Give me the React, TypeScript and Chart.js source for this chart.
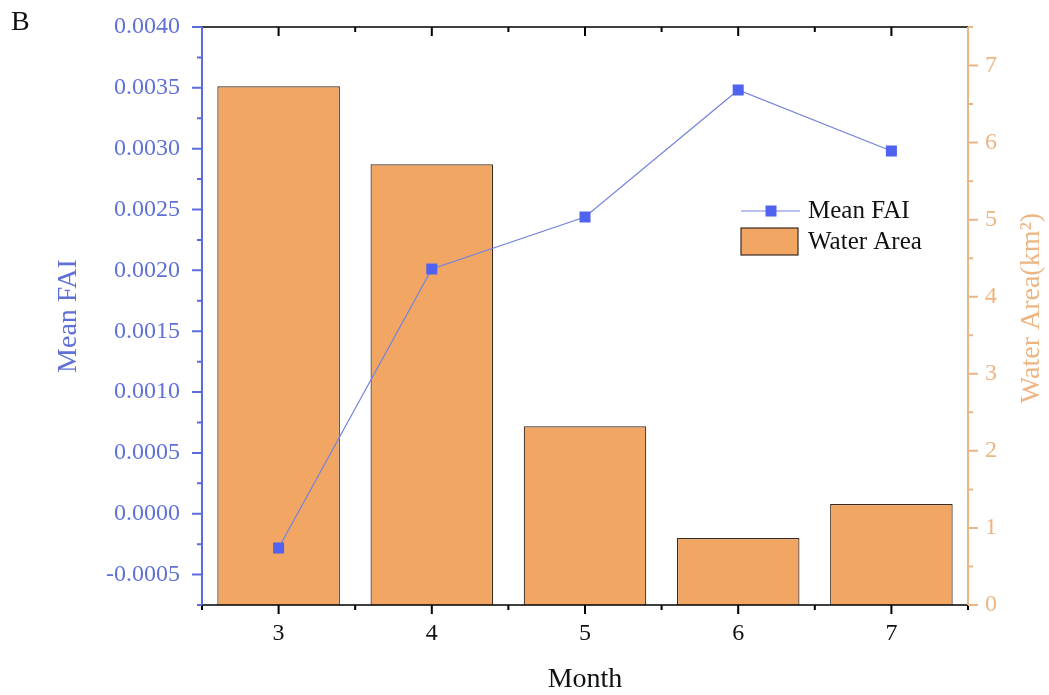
import React, { useEffect, useRef } from "react";
import { Chart, registerables } from "chart.js";

Chart.register(...registerables);

const months = ["3", "4", "5", "6", "7"];
const meanFAI = [-0.000282, 0.002011, 0.002438, 0.003482, 0.002981];
const waterArea = [6.73, 5.72, 2.32, 0.87, 1.31];
const leftTicks = [-0.0005, 0.0, 0.0005, 0.001, 0.0015, 0.002, 0.0025, 0.003, 0.0035, 0.004];
const rightTicks = [0, 1, 2, 3, 4, 5, 6, 7];

const FONT = "'Liberation Serif', 'Times New Roman', serif";
const BLUE_TEXT = "#5F70D6";
const BLUE_LINE = "#5A6CE0";
const TAN_TEXT = "#EDB582";
const TAN_LINE = "#E8B785";
const BAR_FILL = "#F2A664";
const BAR_BORDER = "#3a2a20";
const MARKER = "#4F63F0";
const FAI_LINE = "#7482DE";

const decorPlugin = {
  id: "decor",
  afterDraw(chart: any) {
    const ctx = chart.ctx;
    const { left, right, top, bottom } = chart.chartArea;
    const x = chart.scales.x;
    const y = chart.scales.y;
    const y1 = chart.scales.y1;
    ctx.save();

    // frame top & bottom (black)
    ctx.strokeStyle = "#000";
    ctx.lineWidth = 1.5;
    ctx.beginPath();
    ctx.moveTo(left, top);
    ctx.lineTo(right, top);
    ctx.moveTo(left, bottom);
    ctx.lineTo(right, bottom);
    ctx.stroke();

    // x ticks
    const n = months.length;
    const step = (right - left) / n;
    ctx.lineWidth = 2;
    ctx.beginPath();
    for (let i = 0; i < n; i++) {
      const cx = x.getPixelForValue(i);
      ctx.moveTo(cx, bottom);
      ctx.lineTo(cx, bottom + 9);
      ctx.moveTo(cx, top);
      ctx.lineTo(cx, top + 9);
    }
    for (let i = 0; i <= n; i++) {
      const bx = left + i * step;
      ctx.moveTo(bx, bottom);
      ctx.lineTo(bx, bottom + 5);
      ctx.moveTo(bx, top);
      ctx.lineTo(bx, top + 5);
    }
    ctx.stroke();

    // left axis
    ctx.strokeStyle = BLUE_LINE;
    ctx.lineWidth = 2;
    ctx.beginPath();
    ctx.moveTo(left, top);
    ctx.lineTo(left, bottom);
    for (const v of leftTicks) {
      const py = y.getPixelForValue(v);
      ctx.moveTo(left, py);
      ctx.lineTo(left - 10, py);
      const pm = y.getPixelForValue(v - 0.00025);
      if (pm <= bottom + 0.5) {
        ctx.moveTo(left, pm);
        ctx.lineTo(left - 5, pm);
      }
    }
    ctx.stroke();

    // right axis
    ctx.strokeStyle = TAN_LINE;
    ctx.beginPath();
    ctx.moveTo(right, top);
    ctx.lineTo(right, bottom);
    for (const v of rightTicks) {
      const py = y1.getPixelForValue(v);
      ctx.moveTo(right, py);
      ctx.lineTo(right + 10, py);
      const pm = y1.getPixelForValue(v + 0.5);
      if (pm >= top - 0.5) {
        ctx.moveTo(right, pm);
        ctx.lineTo(right + 5, pm);
      }
    }
    ctx.stroke();

    // titles
    ctx.fillStyle = "#111";
    ctx.font = `28px ${FONT}`;
    ctx.textAlign = "center";
    ctx.textBaseline = "middle";
    ctx.fillText("Month", (left + right) / 2, 680);

    ctx.save();
    ctx.translate(69, 316);
    ctx.rotate(-Math.PI / 2);
    ctx.fillStyle = BLUE_TEXT;
    ctx.fillText("Mean FAI", 0, 0);
    ctx.restore();

    ctx.save();
    ctx.translate(1032, 308);
    ctx.rotate(-Math.PI / 2);
    ctx.fillStyle = TAN_TEXT;
    ctx.fillText("Water Area(km²)", 0, 0);
    ctx.restore();

    // panel letter
    ctx.fillStyle = "#111";
    ctx.font = `28px ${FONT}`;
    ctx.textAlign = "left";
    ctx.fillText("B", 11, 23);

    // legend
    const lx = 741;
    ctx.strokeStyle = FAI_LINE;
    ctx.lineWidth = 1.2;
    ctx.beginPath();
    ctx.moveTo(lx, 211);
    ctx.lineTo(lx + 59, 211);
    ctx.stroke();
    ctx.fillStyle = MARKER;
    ctx.fillRect(lx + 24.5, 205.5, 11, 11);
    ctx.fillStyle = BAR_FILL;
    ctx.fillRect(lx, 228, 57, 27);
    ctx.strokeStyle = BAR_BORDER;
    ctx.lineWidth = 1.2;
    ctx.strokeRect(lx, 228, 57, 27);
    ctx.fillStyle = "#111";
    ctx.font = `25px ${FONT}`;
    ctx.textAlign = "left";
    ctx.textBaseline = "middle";
    ctx.fillText("Mean FAI", 808, 211);
    ctx.fillText("Water Area", 808, 242);

    ctx.restore();
  },
};

export default function App() {
  const canvasRef = useRef<HTMLCanvasElement | null>(null);

  useEffect(() => {
    const canvas = canvasRef.current;
    if (!canvas) return;
    const chart = new Chart(canvas, {
      type: "bar",
      data: {
        labels: months,
        datasets: [
          {
            type: "line",
            label: "Mean FAI",
            data: meanFAI,
            yAxisID: "y",
            borderColor: FAI_LINE,
            borderWidth: 1.2,
            pointStyle: "rect",
            pointRadius: 7.8,
            pointBackgroundColor: MARKER,
            pointBorderColor: MARKER,
            pointBorderWidth: 0,
            tension: 0,
            order: 0,
          } as any,
          {
            type: "bar",
            label: "Water Area",
            data: waterArea,
            yAxisID: "y1",
            backgroundColor: BAR_FILL,
            borderColor: BAR_BORDER,
            borderWidth: 1.2,
            barPercentage: 0.8,
            categoryPercentage: 1.0,
            order: 1,
          } as any,
        ],
      },
      options: {
        responsive: false,
        animation: false,
        layout: { padding: { top: 27, left: 0, right: 0, bottom: 0 } },
        plugins: { legend: { display: false }, tooltip: { enabled: false } },
        scales: {
          x: {
            type: "category",
            offset: true,
            grid: { display: false, drawTicks: false },
            border: { display: false },
            ticks: {
              color: "#111",
              font: { family: FONT, size: 24 },
              padding: 14,
              maxRotation: 0,
            },
            afterFit(scale: any) {
              scale.height = 90;
              scale.paddingLeft = 0;
              scale.paddingRight = 0;
            },
          },
          y: {
            type: "linear",
            position: "left",
            min: -0.00075,
            max: 0.004,
            grid: { display: false, drawTicks: false },
            border: { display: false },
            afterBuildTicks(scale: any) {
              scale.ticks = leftTicks.map((v) => ({ value: v }));
            },
            ticks: {
              color: BLUE_TEXT,
              font: { family: FONT, size: 24 },
              padding: 22,
              callback: (v: any) => Number(v).toFixed(4),
            },
            afterFit(scale: any) {
              scale.width = 202;
              scale.paddingTop = 0;
              scale.paddingBottom = 0;
            },
          },
          y1: {
            type: "linear",
            position: "right",
            min: 0,
            max: 7.5,
            grid: { display: false, drawTicks: false },
            border: { display: false },
            afterBuildTicks(scale: any) {
              scale.ticks = rightTicks.map((v) => ({ value: v }));
            },
            ticks: {
              color: TAN_TEXT,
              font: { family: FONT, size: 24 },
              padding: 17,
              callback: (v: any) => String(v),
            },
            afterFit(scale: any) {
              scale.width = 81;
              scale.paddingTop = 0;
              scale.paddingBottom = 0;
            },
          },
        },
      } as any,
      plugins: [decorPlugin],
    });
    return () => chart.destroy();
  }, []);

  return (
    <div style={{ position: "absolute", left: 0, top: 0, width: 1049, height: 695, background: "#fff" }}>
      <canvas ref={canvasRef} width={1049} height={695} style={{ display: "block" }} />
    </div>
  );
}
